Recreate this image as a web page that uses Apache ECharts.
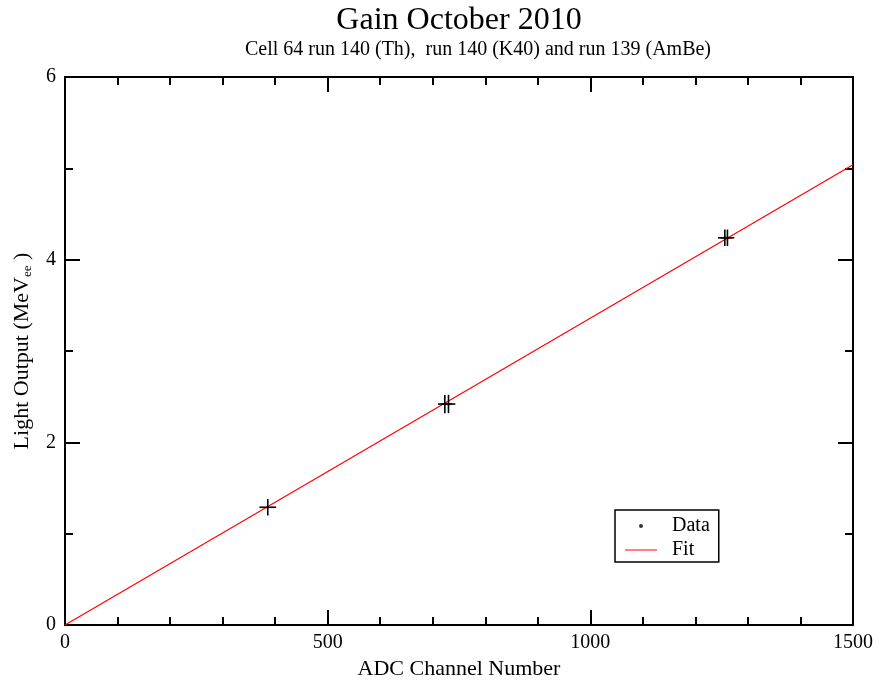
<!DOCTYPE html>
<html>
<head>
<meta charset="utf-8">
<script src="https://cdn.jsdelivr.net/npm/echarts@6/dist/echarts.min.js"></script>
<style>
html,body{margin:0;padding:0;background:#fff;}
#chart{width:880px;height:685px;}
</style>
</head>
<body>
<div id="chart"></div>
<script>
// ---- data ----
var dataX = [386, 723, 730, 1256, 1261];
var dataY = [1.29, 2.42, 2.42, 4.24, 4.24];
var xErr  = [16, 13, 13, 13, 13];
var yErr  = [0.09, 0.10, 0.10, 0.09, 0.09];
var fitX  = [0, 1500];
var fitY  = [0, 5.04];
var xTicks = [0, 500, 1000, 1500];
var yTicks = [0, 2, 4, 6];

var FONT = 'Liberation Serif';
var chart = echarts.init(document.getElementById('chart'));

var pts = dataX.map(function (x, i) { return [x, dataY[i], xErr[i], yErr[i]]; });
var fit = fitX.map(function (x, i) { return [x, fitY[i]]; });

function axisCommon(extra) {
  return Object.assign({
    type: 'value',
    axisLine: { show: true, onZero: false, lineStyle: { color: '#000', width: 2 } },
    axisTick: { show: true, inside: true, length: 15, lineStyle: { color: '#000', width: 2 } },
    splitLine: { show: false },
    axisLabel: { color: '#000', fontFamily: FONT, fontSize: 20 }
  }, extra);
}

var option = {
  backgroundColor: '#fff',
  animation: false,
  title: [
    {
      left: 459,
      top: 0,
      textAlign: 'center',
      padding: [5, 0, 0, 0],
      text: 'Gain October 2010',
      textStyle: { fontFamily: FONT, fontSize: 32, fontWeight: 'normal', color: '#000' }
    },
    {
      left: 478,
      top: 0,
      textAlign: 'center',
      padding: [40, 0, 0, 0],
      text: 'Cell 64 run 140 (Th),  run 140 (K40) and run 139 (AmBe)',
      textStyle: { fontFamily: FONT, fontSize: 20, fontWeight: 'normal', color: '#000' }
    }
  ],
  grid: { left: 65, right: 27, top: 77, bottom: 56, containLabel: false },
  legend: {
    left: 615,
    top: 510,
    orient: 'vertical',
    backgroundColor: '#fff',
    borderColor: '#000',
    borderWidth: 1.5,
    borderRadius: 0,
    padding: [6, 9, 2, 10],
    itemGap: 4,
    itemWidth: 32,
    itemHeight: 4,
    textStyle: { fontFamily: FONT, fontSize: 20, color: '#000', padding: [0, 0, 0, 10] },
    data: [
      { name: 'Data', icon: 'circle' },
      { name: 'Fit', icon: 'path://M0,0L32,0L32,1L0,1Z' }
    ]
  },
  xAxis: [
    axisCommon({
      min: 0, max: 1500, interval: 500,
      position: 'bottom',
      minorTick: { show: true, splitNumber: 5, length: 8, lineStyle: { color: '#000', width: 2 } },
      axisLabel: { color: '#000', fontFamily: FONT, fontSize: 20, margin: 8,
        formatter: function (v) { return xTicks.indexOf(v) >= 0 ? String(v) : ''; } },
      name: 'ADC Channel Number',
      nameLocation: 'middle',
      nameGap: 23,
      nameTextStyle: { fontFamily: FONT, fontSize: 22, color: '#000' }
    }),
    axisCommon({
      min: 0, max: 1500, interval: 500,
      position: 'top',
      minorTick: { show: true, splitNumber: 5, length: 8, lineStyle: { color: '#000', width: 2 } },
      axisLabel: { show: false }
    })
  ],
  yAxis: [
    axisCommon({
      min: 0, max: 6, interval: 2,
      position: 'left',
      minorTick: { show: true, splitNumber: 2, length: 8, lineStyle: { color: '#000', width: 2 } },
      axisLabel: { color: '#000', fontFamily: FONT, fontSize: 20, margin: 9, padding: [8, 0, 0, 0],
        formatter: function (v) { return yTicks.indexOf(v) >= 0 ? String(v) : ''; } },
      name: 'Light Output (MeV{sub|ee} )',
      nameLocation: 'middle',
      nameGap: 31,
      nameRotate: 90,
      nameTextStyle: {
        fontFamily: FONT, fontSize: 22, color: '#000',
        rich: { sub: { fontFamily: FONT, fontSize: 13, color: '#000', verticalAlign: 'bottom', padding: [10, 0, 0, 0] } }
      }
    }),
    axisCommon({
      min: 0, max: 6, interval: 2,
      position: 'right',
      minorTick: { show: true, splitNumber: 2, length: 8, lineStyle: { color: '#000', width: 2 } },
      axisLabel: { show: false }
    })
  ],
  series: [
    {
      name: 'Fit',
      type: 'line',
      data: fit,
      showSymbol: false,
      symbol: 'none',
      color: '#ff0000',
      lineStyle: { color: '#ff0000', width: 1.2 },
      z: 2
    },
    {
      name: 'Data',
      type: 'scatter',
      data: pts.map(function (p) { return [p[0], p[1]]; }),
      symbol: 'circle',
      symbolSize: 3,
      itemStyle: { color: '#000' },
      z: 3
    },
    {
      name: 'errors',
      type: 'custom',
      data: pts,
      z: 4,
      renderItem: function (params, api) {
        var x = api.value(0), y = api.value(1), ex = api.value(2), ey = api.value(3);
        var l = api.coord([x - ex, y]), r = api.coord([x + ex, y]);
        var t = api.coord([x, y + ey]), b = api.coord([x, y - ey]);
        var st = { stroke: '#000', lineWidth: 1.6 };
        return {
          type: 'group',
          children: [
            { type: 'line', shape: { x1: l[0], y1: l[1], x2: r[0], y2: r[1] }, style: st },
            { type: 'line', shape: { x1: t[0], y1: t[1], x2: b[0], y2: b[1] }, style: st }
          ]
        };
      }
    }
  ]
};
chart.setOption(option);
</script>
</body>
</html>
